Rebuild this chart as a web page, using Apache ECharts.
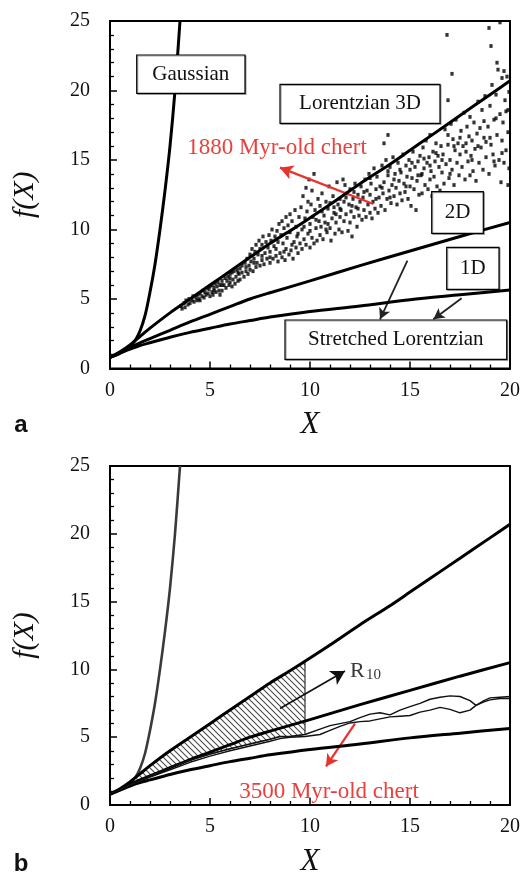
<!DOCTYPE html>
<html>
<head>
<meta charset="utf-8">
<script src="https://cdn.jsdelivr.net/npm/echarts@6/dist/echarts.min.js"></script>
<style>
  html, body { margin: 0; padding: 0; background: #fff; }
  #chart { width: 526px; height: 878px; }
</style>
</head>
<body>
<div id="chart"></div>
<script>
// ---- model curves f(X) (shared by both panels) ----
const gaussianX = [0, 0.5, 1, 1.25, 1.5, 1.75, 2, 2.25, 2.5, 2.75, 3, 3.25, 3.5];
const gaussianY = [0.8, 1.1, 1.6, 2.0, 2.7, 3.8, 5.5, 7.5, 10, 12.8, 16, 20, 25];

const lor3dX = [0, 0.5, 1, 1.5, 2, 3, 4, 5, 6, 7, 8, 9, 9.75, 11, 12.5, 14, 15, 16, 17.5, 19, 20];
const lor3dY = [0.8, 1.2, 1.7, 2.3, 2.9, 4.0, 5.0, 6.0, 7.0, 8.0, 9.0, 9.9, 10.6, 11.8, 13.3, 14.7, 15.7, 16.7, 18.2, 19.7, 20.7];

const stretchedX = [0, 0.5, 1, 1.5, 2, 3, 4, 5, 6, 7, 8, 10, 12.5, 15, 17.5, 20];
const stretched2dY = [0.8, 1.15, 1.5, 1.85, 2.15, 2.75, 3.35, 3.9, 4.45, 5.0, 5.45, 6.3, 7.4, 8.45, 9.5, 10.5];
const stretched1dY = [0.8, 1.1, 1.4, 1.65, 1.85, 2.25, 2.6, 2.9, 3.2, 3.45, 3.7, 4.1, 4.5, 4.95, 5.3, 5.65];

// ---- 1880 Myr-old chert: measured points [X, f(X)] ----
const chert1880 = [
  [3.55,4.5],[3.6,4.3],[3.7,4.7],[3.75,4.4],[3.8,4.9],[3.9,4.6],[3.95,5.0],[4.0,4.7],[4.1,4.9],[4.15,5.2],
  [4.2,4.8],[4.3,5.1],[4.35,4.9],[4.4,5.3],[4.45,5.0],[4.5,5.4],[4.5,4.9],
  [4.6,5.2],[4.65,5.6],[4.7,5.1],[4.75,5.5],[4.8,5.3],[4.85,5.8],[4.9,5.4],[4.95,5.7],[5.0,5.2],[5.0,5.9],
  [5.1,5.5],[5.1,6.0],[5.15,5.3],[5.2,5.8],[5.25,6.1],[5.3,5.5],[5.35,5.9],[5.4,6.2],[5.45,5.6],[5.5,6.0],[5.5,5.3],
  [5.6,6.3],[5.6,5.6],[5.7,6.0],[5.75,6.5],[5.8,5.8],[5.85,6.3],[5.9,6.6],[5.95,6.0],[6.0,6.8],[6.0,6.2],
  [6.1,5.9],[6.1,6.9],[6.15,6.4],[6.2,7.0],[6.25,6.1],[6.3,6.6],[6.35,7.1],[6.4,6.3],[6.45,6.8],[6.5,7.2],[6.5,6.4],
  [6.6,6.9],[6.6,7.4],[6.7,6.6],[6.75,7.6],[6.8,7.0],[6.85,7.9],[6.9,6.8],[6.95,7.4],[7.0,8.2],[7.0,7.1],
  [7.05,7.7],[7.1,8.6],[7.15,7.0],[7.2,7.9],[7.25,8.4],[7.3,7.3],[7.3,8.9],[7.35,7.6],[7.4,8.2],[7.45,9.2],[7.5,7.4],[7.5,8.6],
  [7.6,7.8],[7.6,8.9],[7.65,9.5],[7.7,7.5],[7.75,8.3],[7.8,9.1],[7.85,7.9],[7.9,8.7],[7.95,9.6],[8.0,7.6],
  [8.0,8.4],[8.05,9.2],[8.1,10.0],[8.15,7.9],[8.2,8.8],[8.25,9.5],[8.3,8.1],[8.35,9.9],[8.4,7.7],[8.4,9.1],[8.45,10.4],[8.5,8.3],
  [8.55,9.6],[8.6,10.6],[8.6,8.0],[8.65,9.0],[8.7,10.1],[8.75,7.8],[8.8,10.9],[8.8,8.6],[8.85,9.4],[8.9,10.3],
  [8.95,8.2],[9.0,11.1],[9.0,9.8],[9.05,8.5],[9.1,10.6],[9.15,7.9],[9.2,9.1],[9.25,11.4],[9.3,8.7],[9.3,10.2],
  [9.35,9.5],[9.4,8.3],[9.45,10.9],[9.5,9.0],
  [9.55,11.6],[9.6,8.6],[9.6,10.0],[9.65,12.4],[9.7,9.3],[9.75,10.8],[9.8,13.0],[9.8,8.9],[9.85,11.3],[9.9,9.7],
  [9.9,12.0],[9.95,13.6],[10.0,10.4],[10.0,8.7],[10.05,11.8],[10.1,9.4],[10.1,12.8],[10.15,10.9],[10.2,9.0],[10.2,14.0],
  [10.25,11.4],[10.3,10.1],[10.35,9.2],[10.4,12.2],[10.45,10.6],[10.5,9.6],[10.5,11.7],
  [10.55,10.2],[10.6,12.6],[10.65,9.3],[10.7,11.0],[10.75,10.5],[10.8,12.0],[10.85,9.8],[10.9,11.5],[10.95,13.1],[11.0,10.1],
  [11.0,11.9],[11.05,9.2],[11.1,10.8],[11.15,12.4],[11.2,11.2],[11.25,9.7],[11.3,10.5],[11.35,13.4],[11.4,11.8],[11.45,10.0],
  [11.5,12.2],[11.5,10.9],
  [11.55,11.4],[11.6,9.8],[11.65,13.6],[11.7,12.0],[11.7,10.6],[11.75,13.2],[11.8,11.1],[11.85,12.6],[11.9,9.9],[11.95,11.8],
  [12.0,10.5],[12.0,12.9],[12.05,11.3],[12.1,9.5],[12.15,12.2],[12.2,10.9],[12.25,13.3],[12.3,11.6],[12.35,10.2],[12.4,12.5],
  [12.45,11.0],[12.5,12.0],
  [12.55,13.1],[12.6,10.7],[12.65,12.3],[12.7,11.4],[12.75,13.6],[12.8,10.9],[12.85,12.8],[12.9,11.8],[12.95,14.0],[13.0,11.2],
  [13.0,12.5],[13.05,13.3],[13.1,10.8],[13.15,12.0],[13.2,14.4],[13.25,11.5],[13.3,12.9],[13.35,13.8],[13.4,11.2],[13.45,12.3],[13.5,13.1],
  [13.55,11.7],[13.6,14.6],[13.65,12.6],[13.7,16.2],[13.7,13.4],[13.75,11.4],[13.8,15.0],[13.85,12.2],[13.9,16.8],[13.9,13.9],
  [13.95,12.8],[14.0,14.5],[14.05,11.9],[14.1,13.2],[14.15,15.2],[14.2,12.4],[14.25,14.0],[14.3,13.0],[14.35,11.8],[14.4,14.8],
  [14.45,13.5],[14.5,12.6],
  [14.55,14.1],[14.6,12.1],[14.65,15.4],[14.7,13.3],[14.75,12.7],[14.8,14.6],[14.85,13.8],[14.9,12.2],[14.95,15.0],[15.0,13.1],
  [15.0,14.3],[15.05,11.7],[15.1,13.7],[15.15,15.6],[15.2,12.9],[15.25,14.5],[15.3,11.4],[15.35,13.5],[15.4,14.9],[15.45,12.5],[15.5,15.3],
  [15.55,13.9],[15.6,12.6],[15.65,15.9],[15.7,14.4],[15.75,13.2],[15.8,16.4],[15.85,14.8],[15.9,12.9],[15.95,15.2],[16.0,13.6],
  [16.0,16.8],[16.05,14.2],[16.1,12.4],[16.15,15.6],[16.2,13.8],[16.25,14.9],[16.3,16.2],[16.35,13.1],[16.4,15.3],[16.45,14.5],[16.5,12.8],
  [16.55,16.0],[16.6,14.1],[16.65,15.4],[16.7,13.3],[16.75,17.2],[16.8,14.7],[16.85,24.0],[16.9,16.1],[16.9,19.3],[16.95,13.7],[17.0,15.0],
  [17.05,17.6],[17.1,21.2],[17.1,14.3],[17.15,16.5],[17.2,13.2],[17.25,15.7],[17.3,17.9],[17.35,14.8],[17.4,16.2],[17.45,13.9],[17.5,15.4],
  [17.55,17.1],[17.6,14.5],[17.65,16.0],[17.7,18.4],[17.75,13.6],[17.8,15.6],[17.85,17.4],[17.9,14.9],[17.95,16.7],[18.0,13.9],
  [18.0,18.1],[18.05,15.3],[18.1,16.4],[18.15,14.2],[18.2,17.7],[18.25,15.8],[18.3,13.5],[18.35,16.9],[18.4,19.2],[18.45,14.8],[18.5,17.3],
  [18.55,15.9],[18.6,18.6],[18.65,14.3],[18.7,16.6],[18.75,19.6],[18.8,15.2],[18.95,24.5],[18.9,17.4],[19.05,23.2],[18.95,14.0],
  [19.0,18.9],[19.05,16.1],[19.1,20.4],[19.15,15.4],[19.2,17.9],[19.35,22.0],[19.25,14.6],[19.3,19.7],[19.35,16.8],[19.4,21.5],
  [19.45,15.0],[19.5,18.3],[19.5,24.9],
  [19.55,13.4],[19.6,20.9],[19.6,16.4],[19.65,17.7],[19.7,21.4],[19.7,14.8],[19.75,19.3],[19.8,15.7],[19.8,18.5],[19.85,21.0],
  [19.9,13.2],[19.9,17.0],[19.95,19.9],[19.95,14.4],
  [5.2,5.6],[5.6,6.0],[6.0,6.5],[6.4,6.9],[6.8,7.3],[7.2,7.6],[7.6,8.1],[8.0,8.0],[8.3,8.6],[8.7,8.4],
  [9.1,8.9],[9.4,9.7],[9.7,10.2],[10.0,9.9],[10.3,10.7],[10.6,11.3],[10.9,10.4],[11.2,11.6],[11.5,11.5],[11.8,12.3],
  [12.1,11.7],[12.4,11.5],[12.7,12.7],[13.0,13.7],[13.3,12.2],[13.6,13.0],[13.9,14.2],[14.2,13.6],[14.5,14.3],[14.8,13.1],
  [15.1,14.8],[15.4,13.9],[15.7,15.1],[16.0,14.6],[16.3,15.5],[16.6,15.0],[16.9,16.8],[17.2,16.0],[17.5,16.6],[17.8,16.2],
  [18.1,15.0],[18.4,16.0],[18.7,17.8],[19.0,16.6],[19.3,18.0],[19.6,15.5],[19.9,18.6],[12.2,12.7],[11.3,11.1],[10.8,10.0],
  [14.0,12.3],[15.6,14.0],[17.0,14.0],[18.8,16.3],[19.2,14.9]
];

// ---- 3500 Myr-old chert: measured trace (two strands) ----
const chert3500X     = [0, 1, 2, 3, 4, 5, 6, 7, 8, 8.5, 9, 9.75, 10.5, 11, 11.5, 12, 12.5, 13, 13.5, 14, 14.5, 15, 15.5, 16, 16.5, 17, 17.5, 18, 18.3, 18.7, 19, 19.5, 20];
const chert3500Upper = [0.8, 1.5, 2.15, 2.75, 3.3, 3.75, 4.15, 4.5, 4.85, 5.05, 5.05, 5.2, 5.6, 5.85, 6.0, 6.15, 6.45, 6.7, 6.8, 6.65, 7.0, 7.25, 7.5, 7.8, 7.95, 8.05, 8.0, 7.7, 7.35, 7.7, 7.9, 7.95, 8.0];
const chert3500Lower = [0.8, 1.45, 2.05, 2.6, 3.15, 3.6, 4.0, 4.35, 4.7, 4.9, 5.0, 5.05, 5.2, 5.5, 5.8, 6.05, 6.15, 6.2, 6.35, 6.5, 6.55, 6.6, 6.85, 7.0, 7.2, 7.05, 6.8, 7.0, 7.35, 7.6, 7.75, 7.85, 7.85];

// upper X bound of the shaded R10 area
const r10Limit = 9.75;

// axis tick settings
const xMin = 0, xMax = 20, xStep = 5;
const yMin = 0, yMax = 25, yStep = 5;

const zip = (xs, ys) => xs.map((x, i) => [x, ys[i]]);

const SERIF = '"Liberation Serif", "Times New Roman", serif';

function hatchPattern() {
  const s = 6;
  const c = document.createElement('canvas');
  c.width = s; c.height = s;
  const g = c.getContext('2d');
  g.strokeStyle = '#4a4a4a';
  g.lineWidth = 1.1;
  g.beginPath();
  g.moveTo(0, 0); g.lineTo(s, s);
  g.moveTo(-s / 2, s / 2); g.lineTo(s / 2, s * 1.5);
  g.moveTo(s / 2, -s / 2); g.lineTo(s * 1.5, s / 2);
  g.stroke();
  return c;
}
const hatch = { image: hatchPattern(), repeat: 'repeat' };

const chart = echarts.init(document.getElementById('chart'), null, { renderer: 'canvas' });

function xAxisFor(i) {
  return {
    gridIndex: i, type: 'value', min: xMin, max: xMax, interval: xStep,
    name: 'X', nameLocation: 'middle', nameGap: 41,
    nameTextStyle: { fontFamily: SERIF, fontStyle: 'italic', fontSize: 31, color: '#111' },
    axisLine: { show: true, onZero: false, lineStyle: { color: '#000', width: 2 } },
    axisTick: { show: true, inside: true, length: 7, lineStyle: { color: '#000', width: 1.5 } },
    minorTick: { show: true, splitNumber: 5, length: 4, lineStyle: { color: '#000', width: 1.3 } },
    splitLine: { show: false },
    axisLabel: { fontFamily: SERIF, fontSize: 20, color: '#111', margin: 12 }
  };
}
function yAxisFor(i) {
  return {
    gridIndex: i, type: 'value', min: yMin, max: yMax, interval: yStep,
    name: 'f(X)', nameLocation: 'middle', nameGap: 70,
    nameTextStyle: { fontFamily: SERIF, fontStyle: 'italic', fontSize: 30, color: '#111' },
    axisLine: { show: true, onZero: false, lineStyle: { color: '#000', width: 2 } },
    axisTick: { show: true, inside: true, length: 7, lineStyle: { color: '#000', width: 1.5 } },
    minorTick: { show: true, splitNumber: 5, length: 4, lineStyle: { color: '#000', width: 1.3 } },
    splitLine: { show: false },
    axisLabel: { fontFamily: SERIF, fontSize: 20, color: '#111', margin: 20 }
  };
}

function curve(name, xs, ys, idx, color, width) {
  return {
    name, type: 'line', xAxisIndex: idx, yAxisIndex: idx,
    data: zip(xs, ys), smooth: 0.3, symbol: 'none', z: 5,
    lineStyle: { color, width }
  };
}

function arrow(from, to, color, width, size) {
  return [
    { coord: from, symbol: 'none' },
    { coord: to, symbol: 'arrow', symbolSize: size, lineStyle: { color, width, type: 'solid' }, itemStyle: { color } }
  ];
}
function arrowLayer(name, idx, lines) {
  return {
    name, type: 'line', xAxisIndex: idx, yAxisIndex: idx, data: [], z: 20,
    markLine: {
      silent: true, animation: false, symbol: ['none', 'arrow'],
      label: { show: false },
      lineStyle: { type: 'solid' },
      data: lines
    }
  };
}

function box(x, y, w, h, text) {
  return [
    { type: 'rect', z: 100, shape: { x, y, width: w, height: h },
      style: { fill: '#fff', stroke: '#000', lineWidth: 1.2, shadowColor: 'rgba(0,0,0,0.35)', shadowOffsetX: 1, shadowOffsetY: 1 } },
    { type: 'text', z: 101, x: x + w / 2, y: y + h / 2,
      style: { text, font: '21px ' + SERIF, fill: '#111', align: 'center', verticalAlign: 'middle', textAlign: 'center', textVerticalAlign: 'middle' } }
  ];
}
function label(x, y, text, font, fill) {
  return { type: 'text', z: 101, x, y,
    style: { text, font, fill, align: 'center', verticalAlign: 'middle', textAlign: 'center', textVerticalAlign: 'middle' } };
}

const option = {
  animation: false,
  backgroundColor: '#fff',
  grid: [
    { left: 110, top: 21, width: 400, height: 347.5, show: true, borderColor: '#000', borderWidth: 2 },
    { left: 110, top: 466, width: 400, height: 349.7, show: true, borderColor: '#000', borderWidth: 2 }
  ],
  xAxis: [xAxisFor(0), xAxisFor(1)],
  yAxis: [yAxisFor(0), yAxisFor(1)],
  series: [
    // panel a
    {
      name: '1880 Myr-old chert', type: 'scatter', xAxisIndex: 0, yAxisIndex: 0,
      data: chert1880, symbol: 'rect', symbolSize: [3.2, 3.8], z: 4,
      itemStyle: { color: '#000' }
    },
    curve('Gaussian', gaussianX, gaussianY, 0, '#000', 3),
    curve('Lorentzian 3D', lor3dX, lor3dY, 0, '#000', 3),
    curve('Stretched Lorentzian 2D', stretchedX, stretched2dY, 0, '#000', 3),
    curve('Stretched Lorentzian 1D', stretchedX, stretched1dY, 0, '#000', 3),
    arrowLayer('arrows a', 0, [
      arrow([13.17, 11.83], [8.5, 14.45], '#e8322c', 2.2, [11, 13]),
      arrow([14.87, 7.76], [13.5, 3.54], '#222', 1.8, [9, 11]),
      arrow([17.58, 5.05], [16.17, 3.54], '#222', 1.8, [9, 11])
    ]),
    // panel b
    {
      name: 'R10', type: 'custom', xAxisIndex: 1, yAxisIndex: 1, z: 2,
      data: [0],
      renderItem: function (params, api) {
        const top = [];
        lor3dX.forEach((x, i) => { if (x <= r10Limit) top.push(api.coord([x, lor3dY[i]])); });
        const bottom = [];
        chert3500X.forEach((x, i) => { if (x <= r10Limit) bottom.push(api.coord([x, chert3500Upper[i]])); });
        const pts = top.concat(bottom.reverse());
        return {
          type: 'polygon', shape: { points: pts },
          style: { fill: hatch, stroke: '#333', lineWidth: 1.2 }
        };
      }
    },
    curve('Gaussian', gaussianX, gaussianY, 1, '#3a3a3a', 2.6),
    curve('Lorentzian 3D', lor3dX, lor3dY, 1, '#000', 3),
    curve('Stretched Lorentzian 2D', stretchedX, stretched2dY, 1, '#000', 3),
    curve('Stretched Lorentzian 1D', stretchedX, stretched1dY, 1, '#000', 3),
    {
      name: '3500 Myr-old chert (upper)', type: 'line', xAxisIndex: 1, yAxisIndex: 1,
      data: zip(chert3500X, chert3500Upper), symbol: 'none', z: 6,
      lineStyle: { color: '#111', width: 1.4 }
    },
    {
      name: '3500 Myr-old chert (lower)', type: 'line', xAxisIndex: 1, yAxisIndex: 1,
      data: zip(chert3500X, chert3500Lower), symbol: 'none', z: 6,
      lineStyle: { color: '#111', width: 1.4 }
    },
    arrowLayer('arrows b', 1, [
      arrow([8.5, 7.12], [11.75, 9.88], '#111', 1.6, [12, 14]),
      arrow([12.25, 6.0], [10.8, 2.84], '#e8322c', 2.2, [10, 12])
    ])
  ],
  graphic: [
    ...box(136.7, 55, 108.3, 38.3, 'Gaussian'),
    ...box(280, 84.3, 160, 39, 'Lorentzian 3D'),
    ...box(431.7, 191.7, 51.6, 41.6, '2D'),
    ...box(446.7, 247.3, 52.3, 42, '1D'),
    ...box(285, 320, 221.7, 39.3, 'Stretched Lorentzian'),
    label(277, 148, '1880 Myr-old chert', '23px ' + SERIF, '#e8413c'),
    label(329, 792, '3500 Myr-old chert', '23px ' + SERIF, '#e8413c'),
    { type: 'text', z: 101, x: 350, y: 660,
      style: { text: 'R', font: '22px ' + SERIF, fill: '#3b3535' } },
    { type: 'text', z: 101, x: 366, y: 668,
      style: { text: '10', font: '15px ' + SERIF, fill: '#3b3535' } },
    label(21, 425, 'a', 'bold 24px "Liberation Sans", Arial, sans-serif', '#111'),
    label(21, 864, 'b', 'bold 24px "Liberation Sans", Arial, sans-serif', '#111')
  ]
};

chart.setOption(option);
</script>
</body>
</html>
